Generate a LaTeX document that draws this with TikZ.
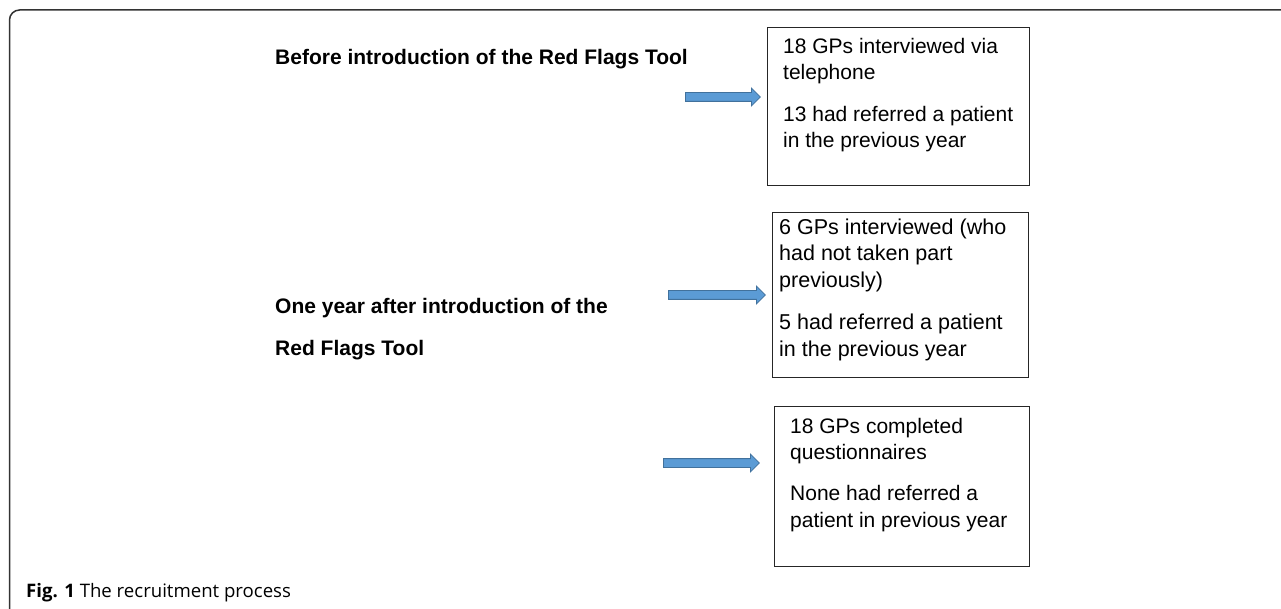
\documentclass[tikz,border=0pt]{standalone}
\usepackage{fontspec}
\setmainfont{Liberation Sans}
\newfontfamily\capfont{Open Sans}
\usetikzlibrary{shapes.arrows}
\definecolor{arrowfill}{HTML}{5B9BD5}
\definecolor{arrowline}{HTML}{41719C}
\definecolor{framecol}{HTML}{333333}
\tikzset{
  gpbox/.style={draw=black!85, line width=1pt, inner sep=0pt, anchor=north west},
  boxline/.style={anchor=base west, inner sep=0pt, font=\fontsize{21}{25}\selectfont},
  midline/.style={anchor=base west, inner sep=0pt, font=\fontsize{21.5}{25}\selectfont},
  label/.style={anchor=base west, inner sep=0pt, font=\fontsize{21}{25}\selectfont\bfseries},
  blockarrow/.style={single arrow, fill=arrowfill, draw=arrowline, line width=0.8pt,
    minimum width=17pt, single arrow head extend=4.5pt, inner xsep=0pt, inner ysep=4pt,
    anchor=tail},
}
\begin{document}
\begin{tikzpicture}[x=1pt,y=-1pt]
\useasboundingbox (0,0) rectangle (1281,609);
% frame
\draw[framecol, line width=1.5pt, rounded corners=10pt] (9.5,612) -- (9.5,10) -- (1284,10);

% left labels
\node[label] (l1) at (275,65) {Before introduction of the Red Flags Tool};
\node[label] (l2a) at (275,313) {One year after introduction of the};
\node[label] (l2b) at (275,355) {Red Flags Tool};

% boxes
\node[gpbox, minimum width=262pt, minimum height=158pt] (b1) at (767,27) {};
\node[gpbox, minimum width=256pt, minimum height=165pt] (b2) at (772,212) {};
\node[gpbox, minimum width=255pt, minimum height=160pt] (b3) at (774,406) {};

% box texts
\node[boxline] (t1a) at (783,54) {18 GPs interviewed via};
\node[boxline] (t1b) at (783,80) {telephone};
\node[boxline] (t1c) at (783,122) {13 had referred a patient};
\node[boxline] (t1d) at (783,148) {in the previous year};

\node[midline] (t2a) at (779,235) {6 GPs interviewed (who};
\node[midline] (t2b) at (779,261) {had not taken part};
\node[midline] (t2c) at (779,288) {previously)};
\node[midline] (t2d) at (779,329) {5 had referred a patient};
\node[midline] (t2e) at (779,356) {in the previous year};

\node[boxline] (t3a) at (790,433) {18 GPs completed};
\node[boxline] (t3b) at (790,459) {questionnaires};
\node[boxline] (t3c) at (790,500) {None had referred a};
\node[boxline] (t3d) at (790,527) {patient in previous year};

% arrows
\coordinate (a1) at (685,97);
\coordinate (a2) at (668,295);
\coordinate (a3) at (663,463);
\node[blockarrow, minimum height=75pt] (ar1) at (a1) {};
\node[blockarrow, minimum height=97pt] (ar2) at (a2) {};
\node[blockarrow, minimum height=96pt] (ar3) at (a3) {};

% caption
\node[anchor=base west, inner sep=0pt, font=\capfont\fontsize{18.6}{22}\selectfont] (cap) at (26,597) {\textbf{Fig. 1} The recruitment process};
\end{tikzpicture}
\end{document}
